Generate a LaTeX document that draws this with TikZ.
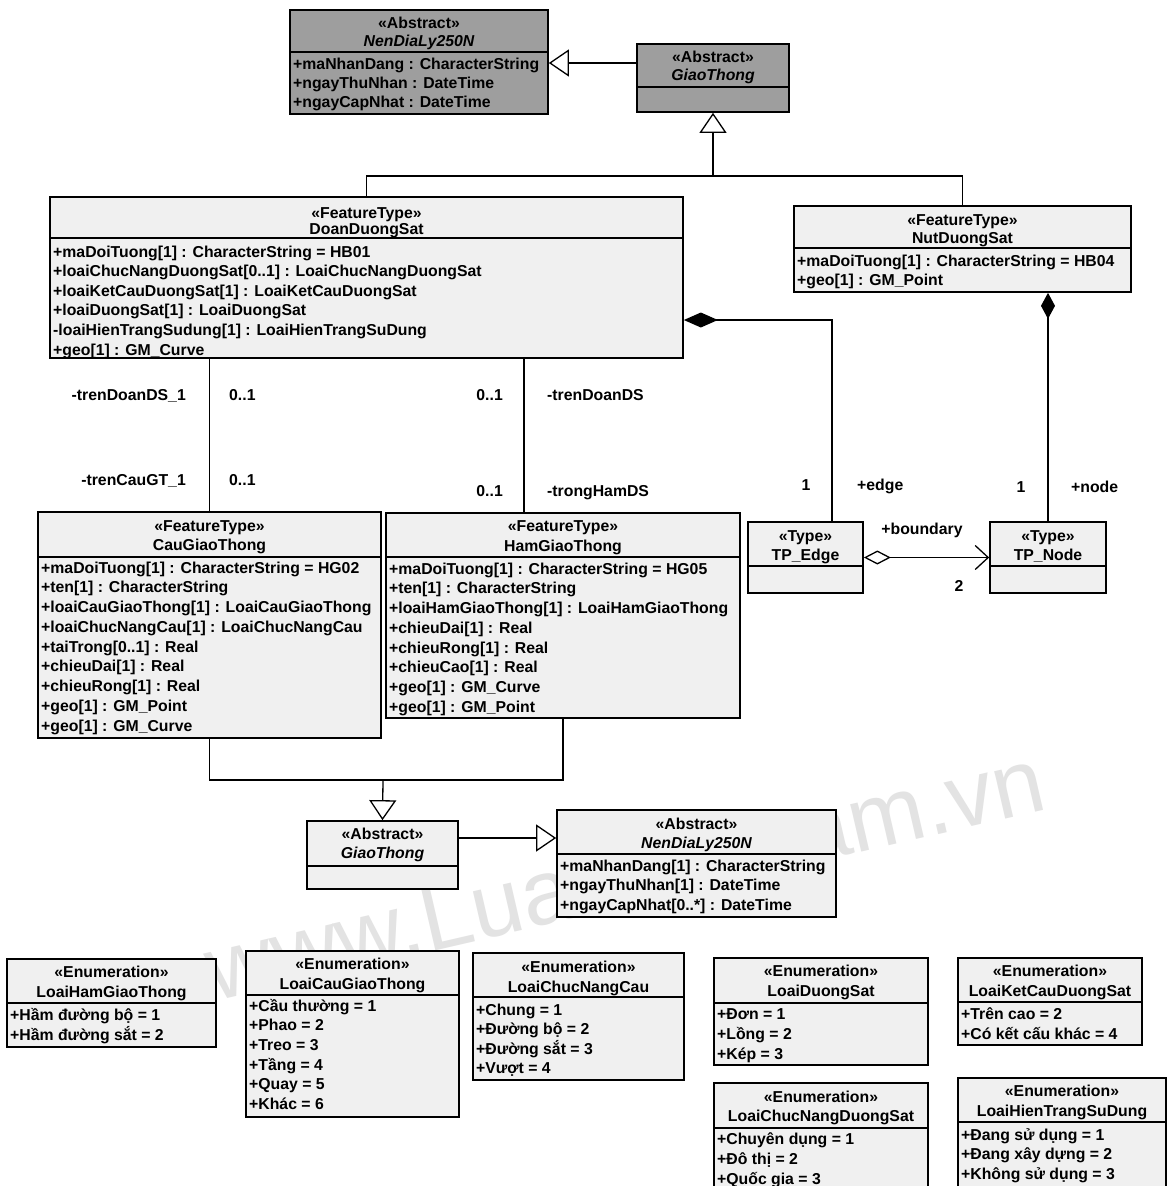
\documentclass[tikz,border=0pt]{standalone}
\usepackage{fontspec}
\setmainfont{Liberation Sans}
\usetikzlibrary{arrows.meta}

% class box: name, left, top, right, bottom, divider y, extra style
\newcommand\umlbox[7]{%
  \node[frame,#7,minimum width={(#4)-(#2)},minimum height={(#5)-(#3)}] (#1)
    at ({((#2)+(#4))/2},{((#3)+(#5))/2}) {};
  \draw[rule] (#2,#6) -- (#4,#6);}
% header lines: box, stereotype y, name y, stereotype, name
\newcommand\umlhead[5]{%
  \node[head] (#1-st) at (#1.north |- 0,#2) {#4};
  \node[head] (#1-nm) at (#1.north |- 0,#3) {#5};}
% attribute lines: box, x, first y, step, list
\newcommand\umlattrs[5]{%
  \foreach \t [count=\i] in {#5} {\node[attr] (#1-a\i) at (#2,{(#3)+(\i-1)*(#4)}) {\t};}}

\begin{document}
\begin{tikzpicture}[x=1pt,y=-1pt,
  every node/.style={inner sep=0pt},
  txt/.style={font=\fontsize{15.8}{18}\selectfont\bfseries,yshift=-3.5pt},
  frame/.style={draw,line width=1.7pt,fill=white},
  rule/.style={line width=1.4pt},
  head/.style={txt,anchor=mid},
  attr/.style={txt,anchor=mid west},
  lbl/.style={txt,anchor=mid},
  conn/.style={line width=1.3pt},
  gen/.style={conn,-{Triangle[length=20pt,width=27pt,fill=white]}},
  dark/.style={fill=black!38},
  pale/.style={fill=black!6},
]
\useasboundingbox (0,0) rectangle (1169,1186);
\fill[white] (0,0) rectangle (1169,1186);

% watermark
\node[font=\fontsize{92}{92}\selectfont, text=black!11, rotate=13, anchor=base] (wm)
  at (632,905) {www.LuatVietnam.vn};

% ---------- top abstract classes ----------
\umlbox{nenTop}{290}{10}{548}{114}{52}{dark}
\umlhead{nenTop}{22}{40}{«Abstract»}{\itshape NenDiaLy250N}
\umlattrs{nenTop}{293}{63}{19}{{+maNhanDang : CharacterString},{+ngayThuNhan : DateTime},{+ngayCapNhat : DateTime}}

\umlbox{gtTop}{637}{44}{789}{112}{87}{dark}
\umlhead{gtTop}{56}{74}{«Abstract»}{\itshape GiaoThong}

% ---------- feature types ----------
\umlbox{doan}{50}{197}{683}{358}{238}{pale}
\umlhead{doan}{212}{228}{«FeatureType»}{DoanDuongSat}
\umlattrs{doan}{53}{251}{19.6}{{+maDoiTuong[1] : CharacterString = HB01},{+loaiChucNangDuongSat[0..1] : LoaiChucNangDuongSat},{+loaiKetCauDuongSat[1] : LoaiKetCauDuongSat},{+loaiDuongSat[1] : LoaiDuongSat},{-loaiHienTrangSudung[1] : LoaiHienTrangSuDung},{+geo[1] : GM\_Curve}}

\umlbox{nut}{794}{206}{1131}{292}{248}{pale}
\umlhead{nut}{219}{237}{«FeatureType»}{NutDuongSat}
\umlattrs{nut}{797}{260}{19}{{+maDoiTuong[1] : CharacterString = HB04},{+geo[1] : GM\_Point}}

\umlbox{cau}{38}{512}{381}{738}{557}{pale}
\umlhead{cau}{525}{544}{«FeatureType»}{CauGiaoThong}
\umlattrs{cau}{41}{567}{19.75}{{+maDoiTuong[1] : CharacterString = HG02},{+ten[1] : CharacterString},{+loaiCauGiaoThong[1] : LoaiCauGiaoThong},{+loaiChucNangCau[1] : LoaiChucNangCau},{+taiTrong[0..1] : Real},{+chieuDai[1] : Real},{+chieuRong[1] : Real},{+geo[1] : GM\_Point},{+geo[1] : GM\_Curve}}

\umlbox{ham}{386}{513}{740}{718}{557}{pale}
\umlhead{ham}{525}{545}{«FeatureType»}{HamGiaoThong}
\umlattrs{ham}{389}{568}{19.75}{{+maDoiTuong[1] : CharacterString = HG05},{+ten[1] : CharacterString},{+loaiHamGiaoThong[1] : LoaiHamGiaoThong},{+chieuDai[1] : Real},{+chieuRong[1] : Real},{+chieuCao[1] : Real},{+geo[1] : GM\_Curve},{+geo[1] : GM\_Point}}

% ---------- topology types ----------
\umlbox{tpedge}{748}{522}{863}{593}{566}{pale}
\umlhead{tpedge}{535}{554}{«Type»}{TP\_Edge}
\umlbox{tpnode}{990}{522}{1106}{593}{566}{pale}
\umlhead{tpnode}{535}{554}{«Type»}{TP\_Node}

% ---------- bottom abstract classes ----------
\umlbox{gtBot}{307}{821}{458}{889}{866}{pale}
\umlhead{gtBot}{833}{852}{«Abstract»}{\itshape GiaoThong}
\umlbox{nenBot}{557}{810}{836}{917}{854}{pale}
\umlhead{nenBot}{823}{842}{«Abstract»}{\itshape NenDiaLy250N}
\umlattrs{nenBot}{560}{865}{19.5}{{+maNhanDang[1] : CharacterString},{+ngayThuNhan[1] : DateTime},{+ngayCapNhat[0..*] : DateTime}}

% ---------- enumerations ----------
\umlbox{eHam}{7}{959}{216}{1047}{1003}{pale}
\umlhead{eHam}{971}{991}{«Enumeration»}{LoaiHamGiaoThong}
\umlattrs{eHam}{10}{1014}{20}{{+Hầm đường bộ = 1},{+Hầm đường sắt = 2}}

\umlbox{eCau}{246}{951}{459}{1117}{995}{pale}
\umlhead{eCau}{963}{983}{«Enumeration»}{LoaiCauGiaoThong}
\umlattrs{eCau}{249}{1005}{19.7}{{+Cầu thường = 1},{+Phao = 2},{+Treo = 3},{+Tầng = 4},{+Quay = 5},{+Khác = 6}}

\umlbox{eCNC}{473}{953}{684}{1080}{997}{pale}
\umlhead{eCNC}{966}{986}{«Enumeration»}{LoaiChucNangCau}
\umlattrs{eCNC}{476}{1009}{19.5}{{+Chung = 1},{+Đường bộ = 2},{+Đường sắt = 3},{+Vượt = 4}}

\umlbox{eDS}{714}{958}{928}{1065}{1003}{pale}
\umlhead{eDS}{970}{990}{«Enumeration»}{LoaiDuongSat}
\umlattrs{eDS}{717}{1013}{20}{{+Đơn = 1},{+Lồng = 2},{+Kép = 3}}

\umlbox{eKC}{958}{958}{1142}{1045}{1002}{pale}
\umlhead{eKC}{970}{990}{«Enumeration»}{LoaiKetCauDuongSat}
\umlattrs{eKC}{961}{1013}{20}{{+Trên cao = 2},{+Có kết cấu khác = 4}}

\umlbox{eCNDS}{714}{1083}{928}{1192}{1128}{pale}
\umlhead{eCNDS}{1096}{1115}{«Enumeration»}{LoaiChucNangDuongSat}
\umlattrs{eCNDS}{717}{1138}{20}{{+Chuyên dụng = 1},{+Đô thị = 2},{+Quốc gia = 3}}

\umlbox{eHT}{958}{1078}{1166}{1192}{1122}{pale}
\umlhead{eHT}{1090}{1110}{«Enumeration»}{LoaiHienTrangSuDung}
\umlattrs{eHT}{961}{1134}{19.5}{{+Đang sử dụng = 1},{+Đang xây dựng = 2},{+Không sử dụng = 3}}

% ---------- connectors ----------
% generalisation into GiaoThong (top)
\coordinate (j1) at (713,176);
\draw[conn] (doan.north) |- (j1) -| (nut.north);
\draw[gen] (j1) -- (gtTop.south);
\coordinate (y63) at (0,63);
\draw[gen] (gtTop.west |- y63) -- (nenTop.east |- y63);

% compositions towards the topology types
\coordinate (e1) at (832,320);
\draw[conn,{Diamond[length=34pt,width=15pt]}-] (doan.east |- e1) -- (e1) -- (e1 |- tpedge.north);
\draw[conn,{Diamond[length=26pt,width=14pt]}-] (nut.south -| tpnode.north) -- (tpnode.north);

% aggregation TP_Edge -> TP_Node
\draw[conn,{Diamond[length=27pt,width=14pt,fill=white]}-{Straight Barb[length=13pt,width=24pt]}]
  (tpedge.east) -- (tpnode.west);

% associations DoanDuongSat - CauGiaoThong / HamGiaoThong
\draw[conn] (cau.north) -- (cau.north |- doan.south);
\coordinate (h1) at (524,0);
\draw[conn] (ham.north -| h1) -- (doan.south -| h1);

% generalisation into GiaoThong (bottom)
\coordinate (j2) at (383,780);
\draw[conn] (cau.south) |- (j2) -| (ham.south);
\draw[gen] (j2) -- (gtBot.north);
\coordinate (y838) at (0,838);
\draw[gen] (gtBot.east |- y838) -- (nenBot.west |- y838);

% ---------- role names and multiplicities ----------
\node[txt,anchor=mid east] (r1) at (186,394) {-trenDoanDS\_1};
\node[txt,anchor=mid west] (m1) at (229,394) {0..1};
\node[txt,anchor=mid east] (r2) at (186,479) {-trenCauGT\_1};
\node[txt,anchor=mid west] (m2) at (229,479) {0..1};
\node[txt,anchor=mid east] (m3) at (503,394) {0..1};
\node[txt,anchor=mid west] (r3) at (547,394) {-trenDoanDS};
\node[txt,anchor=mid east] (m4) at (503,490) {0..1};
\node[txt,anchor=mid west] (r4) at (547,490) {-trongHamDS};
\node[lbl] (m5) at (806,484) {1};
\node[txt,anchor=mid west] (r5) at (857,484) {+edge};
\node[lbl] (m6) at (1021,486) {1};
\node[txt,anchor=mid west] (r6) at (1071,486) {+node};
\node[lbl] (r7) at (922,528) {+boundary};
\node[lbl] (m7) at (959,585) {2};
\end{tikzpicture}
\end{document}
